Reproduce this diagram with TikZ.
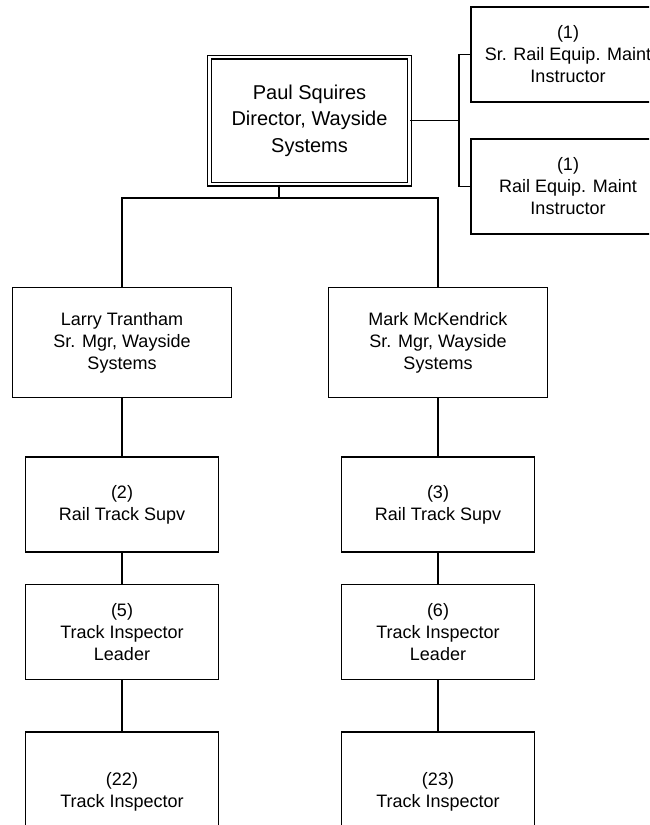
\documentclass[tikz,border=0pt]{standalone}
\usepackage{fontspec}
\setmainfont{Liberation Sans}

\begin{document}
\begin{tikzpicture}[x=1pt,y=-1pt,
    box/.style={draw=black, line width=1.5pt, minimum width=193pt, minimum height=95pt,
      inner sep=0pt, align=center, font=\fontsize{18}{22}\selectfont},
    headbox/.style={box, double, double distance=2.4pt, line width=1.3pt,
      font=\fontsize{20}{26.5}\selectfont},
    link/.style={black, line width=1.4pt}]
  % page frame
  \useasboundingbox (0,0) rectangle (649,825);
  \clip (0,0) rectangle (649,825);

  % director and instructors
  \node[headbox, minimum width=200pt, minimum height=127pt] (dir) at (309.5,120.5)
    {Paul Squires\\Director, Wayside\\Systems};
  \node[box, minimum width=194pt] (srinst) at (568,54.5) {(1)\\Sr. Rail Equip. Maint\\Instructor};
  \node[box, minimum width=194pt] (inst) at (568,186.5) {(1)\\Rail Equip. Maint\\Instructor};

  \coordinate (rbus) at (459,120.5);
  \draw[link] (dir.east) -- (rbus);
  \draw[link] (srinst.west) -| (rbus) |- (inst.west);

  % two wayside columns
  \foreach \col/\x/\mgr/\nsup/\nlead/\ninsp in
      {l/122/Larry Trantham/2/5/22, r/438/Mark McKendrick/3/6/23}{
    \node[box, minimum width=219pt, minimum height=110pt] (mgr\col) at (\x,342.5)
      {\mgr\\Sr. Mgr, Wayside\\Systems};
    \node[box] (sup\col) at (\x,504.5) {(\nsup)\\Rail Track Supv};
    \node[box] (lead\col) at (\x,632) {(\nlead)\\Track Inspector\\Leader};
    \node[box, minimum height=119pt] (insp\col) at (\x,791.5) {(\ninsp)\\Track Inspector};
    \draw[link] (mgr\col) -- (sup\col) -- (lead\col) -- (insp\col);
  }

  % split below director
  \coordinate (split) at (279,198);
  \draw[link] (split |- dir.south) -- (split);
  \draw[link] (mgrl.north) |- (split) -| (mgrr.north);
\end{tikzpicture}
\end{document}
